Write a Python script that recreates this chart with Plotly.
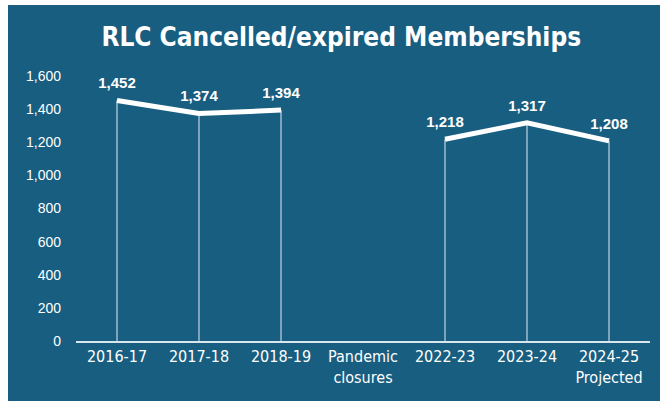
import plotly.graph_objects as go

# Cancelled / expired memberships per financial year
categories = ["2016-17", "2017-18", "2018-19", "Pandemic<br>closures",
              "2022-23", "2023-24", "2024-25<br>Projected"]
values = [1452, 1374, 1394, None, 1218, 1317, 1208]
value_labels = ["1,452", "1,374", "1,394", "", "1,218", "1,317", "1,208"]
y_ticks = [0, 200, 400, 600, 800, 1000, 1200, 1400, 1600]

BG = "#185e80"
W, H = 660, 401
L, R, T, B = 76, 10, 76, 60
PW, PH = W - L - R, H - T - B

fig = go.Figure()

# Drop lines from each point down to the axis
xs, ys = [], []
for c, v in zip(categories, values):
    if v is None:
        continue
    xs += [c, c, None]
    ys += [v, 0, None]
fig.add_trace(go.Scatter(
    x=xs, y=ys, mode="lines", hoverinfo="skip", showlegend=False,
    line=dict(color="rgba(225,238,246,0.62)", width=1.6),
))

# Main line with value labels (transparent markers push the labels up)
fig.add_trace(go.Scatter(
    x=categories, y=values, mode="lines+markers+text", connectgaps=False,
    text=value_labels, textposition="top center",
    textfont=dict(family="Liberation Sans", size=15, color="white", weight="bold"),
    line=dict(color="white", width=5),
    marker=dict(size=12, color="rgba(0,0,0,0)"),
    cliponaxis=False, showlegend=False,
))

# White margin around the panel (top and left edges)
fig.add_shape(type="rect", xref="paper", yref="paper", layer="above",
              x0=-L / PW, x1=-(L - 8) / PW, y0=-B / PH, y1=1 + T / PH,
              fillcolor="white", line_width=0)
fig.add_shape(type="rect", xref="paper", yref="paper", layer="above",
              x0=-L / PW, x1=1 + R / PW, y0=1 + (T - 5) / PH, y1=1 + T / PH,
              fillcolor="white", line_width=0)

fig.update_layout(
    width=W, height=H,
    margin=dict(l=L, r=R, t=T, b=B),
    paper_bgcolor=BG, plot_bgcolor=BG,
    title=dict(
        text="RLC Cancelled/expired Memberships",
        x=0.517, xanchor="center", y=1 - 37 / H, yanchor="middle",
        font=dict(family="DejaVu Sans Condensed", size=26, color="white", weight="bold"),
    ),
    xaxis=dict(
        type="category", categoryorder="array", categoryarray=categories,
        range=[-0.5, 6.5],
        showgrid=False, zeroline=False,
        showline=True, linecolor="rgba(240,245,250,0.9)", linewidth=2,
        ticks="", tickfont=dict(family="DejaVu Sans Condensed", size=16, color="white"),
        fixedrange=True,
    ),
    yaxis=dict(
        range=[0, 1600], tickvals=y_ticks, tickformat=",d",
        showgrid=False, zeroline=False, showline=False,
        ticks="", ticklabelstandoff=14,
        tickfont=dict(family="Liberation Sans", size=14, color="white"),
        fixedrange=True,
    ),
)

fig.write_html("out.html")
